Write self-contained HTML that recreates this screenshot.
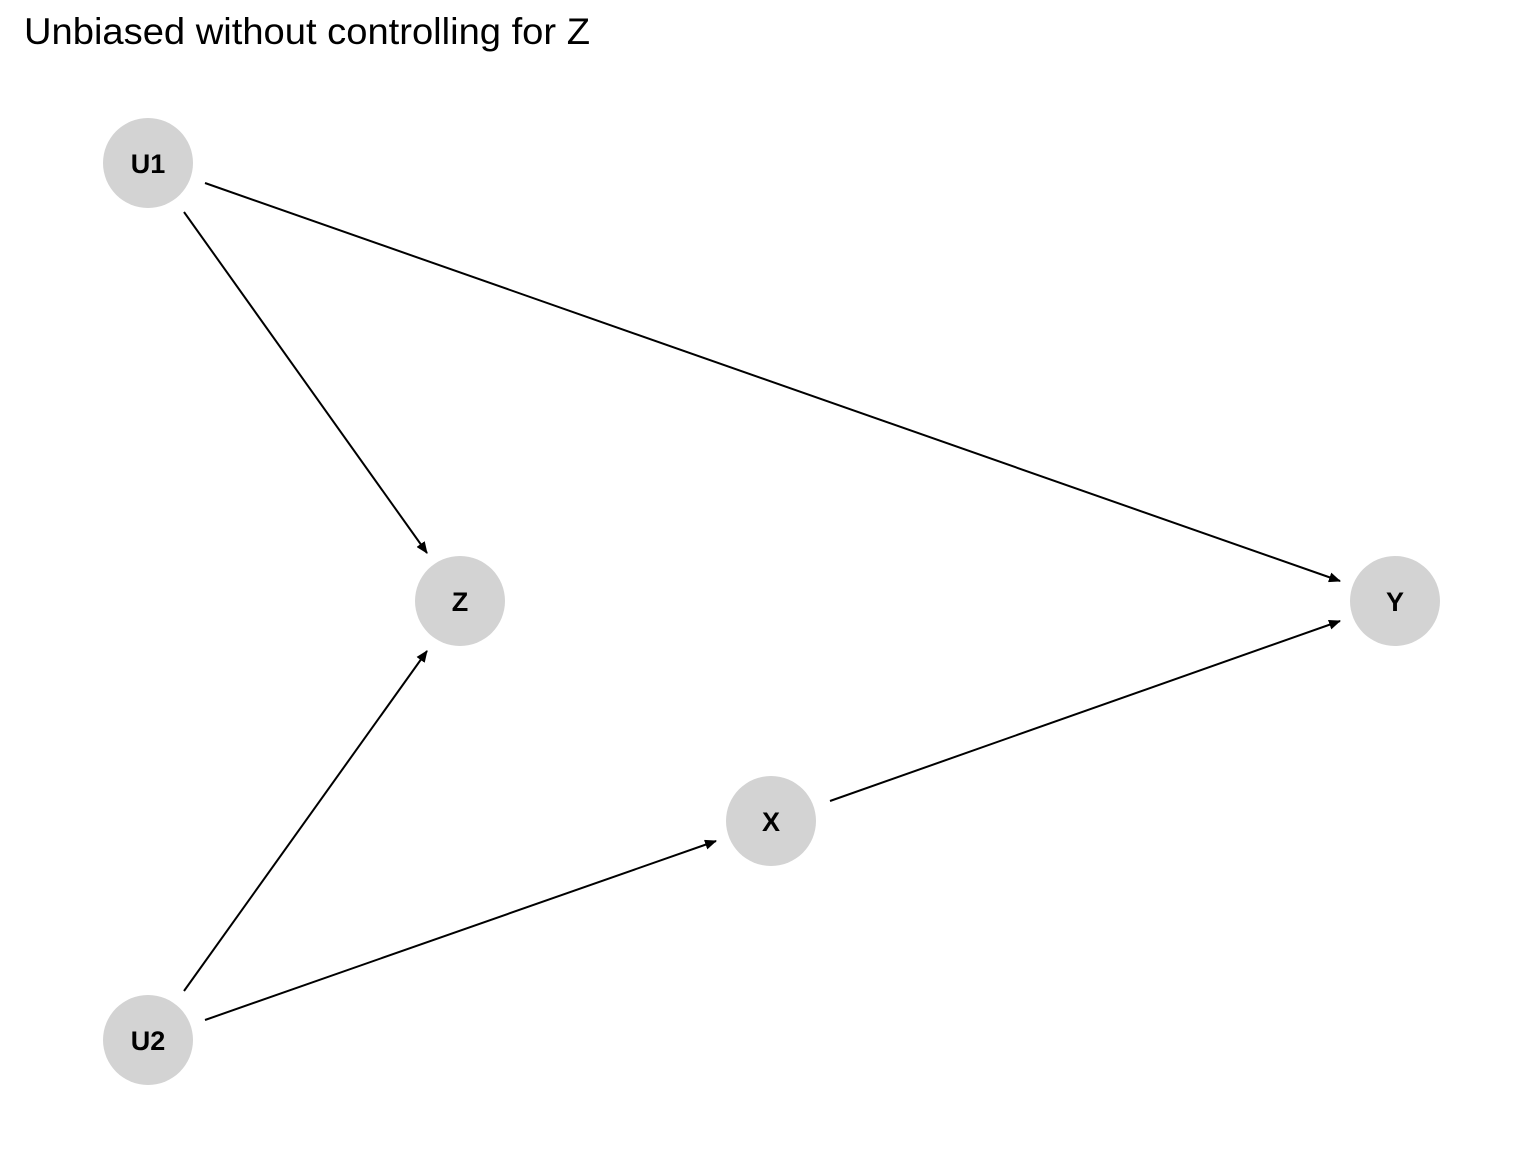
<!DOCTYPE html>
<html><head><style>body{margin:0;background:#fff}</style></head><body>
<svg width="1536" height="1152" xmlns="http://www.w3.org/2000/svg">
<defs><marker id="a" markerWidth="12" markerHeight="10" refX="11" refY="5" orient="auto" markerUnits="userSpaceOnUse"><path d="M0,0 L12,5 L0,10 Z" fill="#000"/></marker></defs>
<rect width="1536" height="1152" fill="#fff"/>
<text x="24" y="44" font-family="Liberation Sans, sans-serif" font-size="37" textLength="566" lengthAdjust="spacingAndGlyphs" fill="#000">Unbiased without controlling for Z</text>
<g stroke="#000" stroke-width="2" marker-end="url(#a)">
<line x1="184" y1="212" x2="427" y2="553"/>
<line x1="205" y1="183" x2="1340" y2="581"/>
<line x1="184" y1="991" x2="427" y2="651"/>
<line x1="205" y1="1020" x2="716" y2="841"/>
<line x1="830" y1="801" x2="1340" y2="621"/>
</g>
<g fill="#d3d3d3">
<circle cx="148" cy="163" r="45"/><circle cx="460" cy="601" r="45"/><circle cx="1395" cy="601" r="45"/><circle cx="771" cy="821" r="45"/><circle cx="148" cy="1040" r="45"/>
</g>
<g font-family="Liberation Sans, sans-serif" font-size="27" font-weight="bold" text-anchor="middle" fill="#000">
<text x="148" y="173">U1</text><text x="460" y="611">Z</text><text x="1395" y="611">Y</text><text x="771" y="831">X</text><text x="148" y="1050">U2</text>
</g>
</svg>
</body></html>
